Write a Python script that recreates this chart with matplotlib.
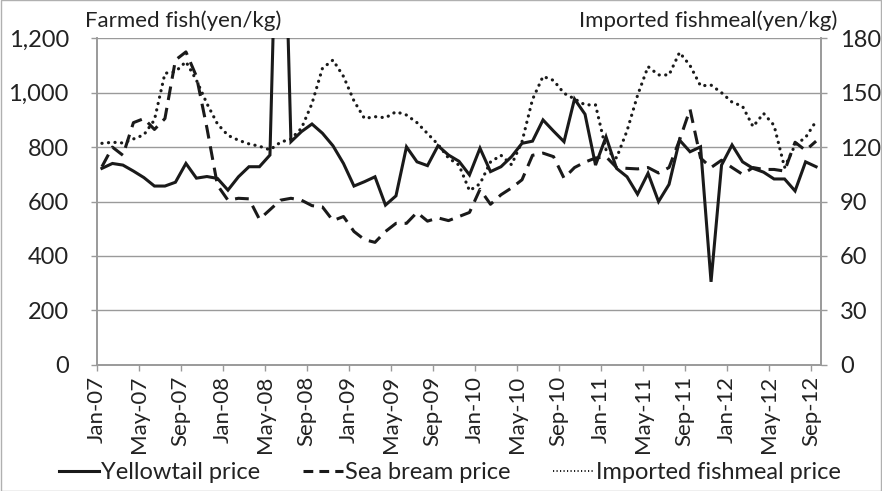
import matplotlib.pyplot as plt
from matplotlib.lines import Line2D
from matplotlib.patches import Rectangle
from matplotlib.ticker import FuncFormatter

plt.rcParams["font.family"] = ["Lato", "DejaVu Sans"]

# monthly series, Jan-07 .. Sep-12
months = [f"{m}-{y:02d}" for y in range(7, 13) for m in
          ["Jan", "Feb", "Mar", "Apr", "May", "Jun", "Jul", "Aug", "Sep", "Oct", "Nov", "Dec"]][:69]

yellowtail = [722, 740, 734, 712, 688, 657, 657, 671, 740, 686, 692, 685,
              642, 691, 728, 728, 771, 2250, 820, 857, 885, 851, 805, 740,
              657, 673, 691, 587, 621, 801, 746, 732, 805, 771, 748, 698,
              796, 710, 728, 765, 814, 822, 900, 859, 820, 977, 921, 734,
              838, 722, 691, 627, 704, 600, 663, 826, 783, 801, 305, 734,
              808, 746, 722, 708, 683, 683, 639, 746, 728]

sea_bream = [728, 800, 770, 890, 905, 865, 905, 1120, 1150, 1060, 870, 660,
             605, 612, 610, 535, 570, 605, 612, 605, 585, 580, 530, 545,
             490, 460, 450, 490, 520, 520, 560, 528, 540, 530, 545, 560,
             645, 590, 625, 650, 680, 770, 778, 765, 686, 725, 745, 760,
             765, 725, 722, 720, 725, 705, 725, 826, 939, 760, 725, 752,
             725, 700, 725, 718, 718, 712, 818, 788, 822]

fishmeal = [122.1, 122.7, 122.3, 124.5, 126.8, 135.0, 160.7, 161.6, 167.1, 156.9, 144.0, 132.8,
            126.5, 123.8, 121.8, 120.5, 118.5, 122.7, 124.5, 130.4, 144.0, 163.5, 168.0, 159.0,
            145.5, 135.8, 136.8, 136.2, 139.5, 137.7, 133.5, 127.5, 121.5, 114.0, 110.1, 96.0,
            99.8, 111.8, 115.5, 110.3, 123.0, 146.3, 159.0, 156.8, 149.7, 146.6, 143.3, 143.3,
            118.5, 114.0, 129.0, 148.5, 164.4, 159.8, 159.8, 172.2, 165.0, 153.8, 154.2, 150.0,
            144.8, 142.5, 131.3, 138.6, 132.0, 108.8, 121.2, 125.3, 134.3]

left_ticks = [0, 200, 400, 600, 800, 1000, 1200]
right_ticks = [0, 30, 60, 90, 120, 150, 180]

x = list(range(len(months)))
grey = "#9a9a9a"
ink = "#1a1a1a"
dashed = (0, (4.5, 2.6))
dotted = (0, (0.05, 2.0))

fig = plt.figure(figsize=(8.82, 4.91), dpi=100)
ax = fig.add_axes([0.1096, 0.257, 0.8216, 0.665])
ax2 = ax.twinx()

ax.plot(x, yellowtail, color=ink, lw=2.2, solid_joinstyle="miter")
ax.plot(x, sea_bream, color=ink, lw=2.2, linestyle=dashed)
ax2.plot(x, fishmeal, color=ink, lw=2.3, linestyle=dotted, dash_capstyle="round")

ax.set_xlim(-0.5, len(months) - 0.5)
ax.set_ylim(0, 1200)
ax2.set_ylim(0, 180)
ax.set_yticks(left_ticks)
ax2.set_yticks(right_ticks)
ax.yaxis.set_major_formatter(FuncFormatter(lambda v, p: f"{v:,.0f}"))
ax.set_xticks([i - 0.5 for i in range(0, len(months), 4)])
ax.set_xticklabels(months[::4], rotation=90)

ax.grid(axis="y", color=grey, lw=1.0)
ax.set_axisbelow(True)
for a in (ax, ax2):
    for s in a.spines.values():
        s.set_color(grey)
        s.set_linewidth(1.2)
    a.spines["top"].set_visible(False)
ax.tick_params(axis="y", length=4, color=grey, width=1, pad=16, labelsize=17, labelcolor="#222222")
ax2.tick_params(axis="y", length=4, color=grey, width=1, pad=9.5, labelsize=17, labelcolor="#222222")
ax.tick_params(axis="x", length=4, color=grey, width=1, pad=4, labelsize=16, labelcolor="#222222")

fig.text(0.096, 0.958, "Farmed fish(yen/kg)", fontsize=16, ha="left", va="center", color="#222222")
fig.text(0.949, 0.958, "Imported fishmeal(yen/kg)", fontsize=16, ha="right", va="center", color="#222222")

handles = [
    Line2D([], [], color=ink, lw=2.2),
    Line2D([], [], color=ink, lw=2.2, linestyle=(0, (3.2, 2.0))),
    Line2D([], [], color=ink, lw=1.4, linestyle=(0, (0.6, 1.2))),
]
labels = ["Yellowtail price", "Sea bream price", "Imported fishmeal price"]
fig.legend(handles, labels, loc="center", bbox_to_anchor=(0.51, 0.038), ncol=3, frameon=False,
           fontsize=17, handlelength=1.7, handletextpad=0.1, columnspacing=1.8, labelcolor="#222222")

fig.add_artist(Rectangle((0.001, 0.001), 0.998, 0.998, transform=fig.transFigure,
                         fill=False, edgecolor="#b0b0b0", lw=1))

fig.savefig("out.png", dpi=100)
